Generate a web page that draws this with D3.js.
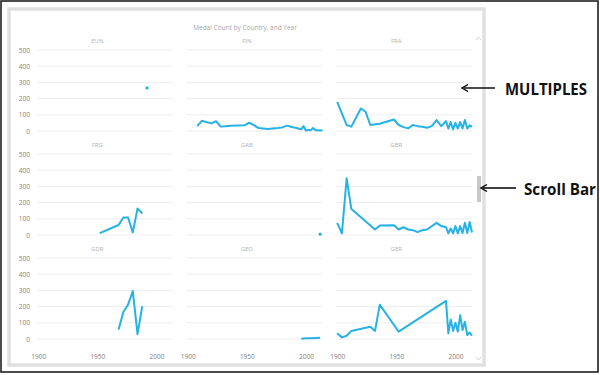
<!DOCTYPE html>
<html>
<head>
<meta charset="utf-8">
<script src="https://cdn.jsdelivr.net/npm/d3@7"></script>
<style>
  body { margin: 0; background: #fff; }
  svg { display: block; }
</style>
</head>
<body>
<div id="chart"></div>
<script>
// country facets, in grid order
var countries = ["EUN", "FIN", "FRA", "FRG", "GAB", "GBR", "GDR", "GEO", "GER"];

// [year, medal count] per country
var eun = [[1992, 266]];
var fin = [[1908, 30], [1912, 63], [1920, 47], [1924, 60], [1928, 27], [1932, 30], [1936, 33], [1948, 35],
  [1952, 51], [1956, 36], [1960, 18], [1964, 16], [1968, 12], [1972, 15], [1976, 18], [1980, 22],
  [1984, 33], [1988, 25], [1992, 18], [1994, 14], [1996, 10], [1998, 30], [2000, 2], [2002, 8],
  [2004, 4], [2006, 18], [2008, 5], [2010, 4], [2012, 3], [2014, 4]];
var fra = [[1900, 180], [1908, 37], [1912, 27], [1920, 139], [1924, 119], [1928, 37], [1936, 45],
  [1948, 71], [1952, 37], [1956, 24], [1960, 16], [1964, 37], [1968, 30], [1972, 26], [1976, 20],
  [1980, 30], [1984, 67], [1988, 30], [1992, 61], [1994, 15], [1996, 55], [1998, 10], [2000, 50],
  [2002, 15], [2004, 55], [2006, 15], [2008, 68], [2010, 15], [2012, 35], [2014, 25]];
var frg = [[1952, 12], [1968, 62], [1972, 108], [1976, 108], [1980, 16], [1984, 164], [1988, 133]];
var gab = [[2012, 5]];
var gbr = [[1900, 75], [1904, 10], [1908, 350], [1912, 160], [1932, 34], [1936, 58], [1948, 60],
  [1952, 34], [1956, 48], [1960, 34], [1964, 30], [1968, 18], [1972, 30], [1976, 34], [1984, 75],
  [1988, 55], [1992, 48], [1994, 10], [1996, 40], [1998, 10], [2000, 55], [2002, 10], [2004, 55],
  [2006, 12], [2008, 75], [2010, 12], [2012, 80], [2014, 15]];
var gdr = [[1968, 58], [1972, 167], [1976, 212], [1980, 296], [1984, 30], [1988, 202]];
var geo = [[1996, 2], [2000, 4], [2004, 5], [2008, 6], [2012, 7]];
var ger = [[1900, 35], [1904, 10], [1908, 20], [1912, 50], [1928, 75], [1932, 50], [1936, 212],
  [1952, 45], [1992, 235], [1994, 35], [1996, 120], [1998, 50], [2000, 100], [2002, 45],
  [2004, 147], [2006, 55], [2008, 106], [2010, 25], [2012, 40], [2014, 20]];

var seriesByCountry = { EUN: eun, FIN: fin, FRA: fra, FRG: frg, GAB: gab, GBR: gbr, GDR: gdr, GEO: geo, GER: ger };

var yTicks = [0, 100, 200, 300, 400, 500];
var xTicks = [1900, 1950, 2000];

var W = 600, H = 375;
var lineColor = "#27b2e6";

var svg = d3.select("#chart").append("svg")
  .attr("width", W).attr("height", H);

// screenshot frame
svg.append("rect").attr("x", 1).attr("y", 1).attr("width", 597).attr("height", 371)
  .attr("fill", "none").attr("stroke", "#111").attr("stroke-width", 1.5);

// visual container (light shadowed border)
svg.append("rect").attr("x", 9).attr("y", 9).attr("width", 475).attr("height", 356)
  .attr("fill", "#fff").attr("stroke", "#e0e0e0").attr("stroke-width", 3.5);

svg.append("text")
  .attr("x", 245).attr("y", 30)
  .attr("text-anchor", "middle")
  .style("font-family", "Open Sans, sans-serif").style("font-size", "6.5px").style("fill", "#a6a6a6")
  .text("Medal Count by Country, and Year");

var colW = 136, colStep = 149.5, colLeft = 37;
var rowH = 81, rowStep = 104, rowTop = 50;

countries.forEach(function (c, i) {
  var col = i % 3, row = Math.floor(i / 3);
  var left = colLeft + col * colStep;
  var top = rowTop + row * rowStep;

  var x = d3.scaleLinear().domain([1899, 2014]).range([left, left + colW]);
  var y = d3.scaleLinear().domain([0, 500]).range([top + rowH, top]);

  var g = svg.append("g");

  // gridlines
  g.selectAll(".grid").data(yTicks).enter().append("line")
    .attr("x1", left).attr("x2", left + colW)
    .attr("y1", function (d) { return y(d); }).attr("y2", function (d) { return y(d); })
    .attr("stroke", "#eeeeee").attr("stroke-width", 1);

  // facet label
  g.append("text")
    .attr("x", x(1950)).attr("y", top - 7)
    .attr("text-anchor", "middle")
    .style("font-family", "Open Sans, sans-serif").style("font-size", "6px").style("fill", "#b0b0b0")
    .text(c);

  if (col === 0) {
    var ya = g.append("g").attr("transform", "translate(" + (left - 7) + ",0)")
      .call(d3.axisLeft(y).tickValues(yTicks).tickSize(0).tickPadding(0));
    ya.select(".domain").remove();
    ya.selectAll("text").style("font-family", "Open Sans, sans-serif").style("font-size", "6.5px").style("fill", "#808080");
  }

  if (row === 2) {
    var xa = g.append("g").attr("transform", "translate(0," + (top + rowH + 15) + ")")
      .call(d3.axisBottom(x).tickValues(xTicks).tickFormat(d3.format("d")).tickSize(0).tickPadding(0));
    xa.select(".domain").remove();
    xa.selectAll("text").style("font-family", "Open Sans, sans-serif").style("font-size", "6.5px").style("fill", "#808080");
  }

  var data = seriesByCountry[c];
  if (data.length > 1) {
    g.append("path").datum(data)
      .attr("fill", "none").attr("stroke", lineColor).attr("stroke-width", 2)
      .attr("stroke-linejoin", "round")
      .attr("d", d3.line().x(function (d) { return x(d[0]); }).y(function (d) { return y(d[1]); }));
  } else {
    g.selectAll("circle").data(data).enter().append("circle")
      .attr("cx", function (d) { return x(d[0]); }).attr("cy", function (d) { return y(d[1]); })
      .attr("r", 1.6).attr("fill", lineColor);
  }
});

// scroll bar and scroll arrows
svg.append("rect").attr("x", 477).attr("y", 176).attr("width", 4).attr("height", 26).attr("fill", "#c8c8c8");
svg.append("path").attr("d", "M476,40 L478.5,37 L481,40").attr("fill", "none").attr("stroke", "#c8c8c8").attr("stroke-width", 0.8);
svg.append("path").attr("d", "M476,357 L478.5,360 L481,357").attr("fill", "none").attr("stroke", "#c8c8c8").attr("stroke-width", 0.8);

// annotations
function arrow(x1, x2, yy) {
  svg.append("line").attr("x1", x1 + 2).attr("x2", x2).attr("y1", yy).attr("y2", yy)
    .attr("stroke", "#000").attr("stroke-width", 1.4);
  svg.append("path").attr("d", "M" + (x1 + 6) + "," + (yy - 3.5) + " L" + x1 + "," + yy + " L" + (x1 + 6) + "," + (yy + 3.5))
    .attr("fill", "none").attr("stroke", "#000").attr("stroke-width", 1.4);
}
arrow(462, 495, 88);
arrow(481, 516, 188);

svg.append("text").attr("x", 505).attr("y", 95)
  .style("font-family", "Open Sans, sans-serif").style("font-weight", "bold").style("font-size", "16px").style("fill", "#111")
  .attr("textLength", 82).attr("lengthAdjust", "spacingAndGlyphs")
  .text("MULTIPLES");
svg.append("text").attr("x", 524).attr("y", 195)
  .style("font-family", "Open Sans, sans-serif").style("font-weight", "bold").style("font-size", "16px").style("fill", "#111")
  .attr("textLength", 72).attr("lengthAdjust", "spacingAndGlyphs")
  .text("Scroll Bar");
</script>
</body>
</html>
